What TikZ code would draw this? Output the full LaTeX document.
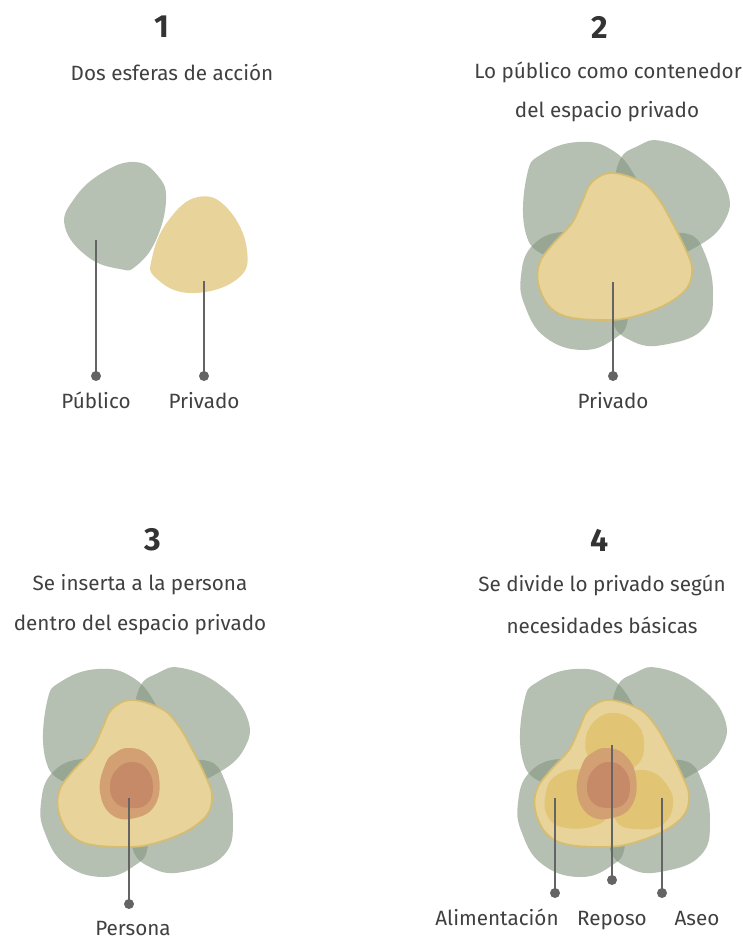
\documentclass[tikz,border=0pt]{standalone}
\usepackage{fontspec}
\setmainfont{Fira Sans}
\begin{document}
\begin{tikzpicture}[x=0.75pt,y=-0.75pt]
\definecolor{greenS}{RGB}{182,192,179}
\definecolor{greenL}{RGB}{133,150,128}
\definecolor{yelA}{RGB}{232,212,154}
\definecolor{yelStroke}{RGB}{214,189,112}
\definecolor{yelB}{RGB}{225,196,116}
\definecolor{oraA}{RGB}{211,160,115}
\definecolor{oraB}{RGB}{199,138,104}
\definecolor{txt}{RGB}{64,64,64}
\definecolor{numc}{RGB}{51,51,51}
\definecolor{stemc}{RGB}{100,100,100}
\tikzset{
  lobe/.style={fill=greenL, fill opacity=0.6},
  privbig/.style={fill=yelA, draw=yelStroke, line width=1.3},
  need/.style={fill=yelB},
  persout/.style={fill=oraA},
  persin/.style={fill=oraB},
  stem/.style={draw=stemc, line width=1.6},
  dot/.style={circle, fill=stemc, inner sep=0pt, minimum size=7.5},
  lbl/.style={text=txt, font=\fontsize{15.5pt}{18pt}\selectfont, inner sep=0pt},
  tag/.style={lbl, anchor=base},
  num/.style={text=numc, font=\fontsize{24pt}{28pt}\selectfont\bfseries, inner sep=0pt},
}
\newcommand\mylobes{%
  \path[lobe] plot[smooth cycle, tension=0.75] coordinates {(527,175) (542,154) (578,142) (612,150) (636,178) (648,214) (632,248) (588,262) (546,256) (525,230)};
  \path[lobe] plot[smooth cycle, tension=0.75] coordinates {(619,162) (638,146) (662,141) (700,158) (727,190) (724,222) (696,247) (660,258) (630,240) (616,200)};
  \path[lobe] plot[smooth cycle, tension=0.75] coordinates {(532,246) (562,232) (596,240) (624,272) (628,318) (614,339) (582,350) (545,337) (525,306) (521,276)};
  \path[lobe] plot[smooth cycle, tension=0.75] coordinates {(612,318) (624,272) (658,241) (688,234) (705,254) (713,294) (704,328) (668,344) (634,342)};
  \path[privbig] plot[smooth cycle, tension=0.6] coordinates {(592,182) (612,173) (642,182) (658,198) (672,222) (685,248) (692,268) (687,288) (665,305) (632,317) (605,320) (568,317) (548,305) (538,282) (540,262) (552,245) (572,223) (582,202)};
}
\useasboundingbox (0,0) rectangle (743,940);
\fill[white] (0,0) rectangle (743,940);

% ---------- Panel 1 ----------
\node[num] (n1) at (162,27) {1};
\node[lbl] (t1) at (172,72) {Dos esferas de acción};
\path[fill=greenS] plot[smooth cycle, tension=0.75] coordinates {(135,162) (158,176) (166,200) (156,240) (136,266) (120,269) (88,257) (65,227) (74,199) (102,173)};
\path[fill=yelA] plot[smooth cycle, tension=0.75] coordinates {(198,197) (228,209) (247,250) (236,280) (190,293) (156,278) (152,258) (168,221)};
\coordinate (s1a) at (96,240);
\coordinate (s1b) at (204,281);
\node[dot] (d1a) at (96,376) {};
\node[dot] (d1b) at (204,376) {};
\draw[stem] (s1a) -- (d1a.center);
\draw[stem] (s1b) -- (d1b.center);
\node[tag] (l1a) at (96,408) {Público};
\node[tag] (l1b) at (204,408) {Privado};

% ---------- Panel 2 ----------
\node[num] (n2) at (600,27) {2};
\node[lbl] (t2a) at (608,72) {Lo público como contenedor};
\node[lbl] (t2b) at (607,112) {del espacio privado};
\mylobes
\coordinate (s2) at (613,282);
\node[dot] (d2) at (613,376) {};
\draw[stem] (s2) -- (d2.center);
\node[tag] (l2) at (613,408) {Privado};

% ---------- Panel 3 ----------
\node[num] (n3) at (153,540) {3};
\node[lbl] (t3a) at (140,585) {Se inserta a la persona};
\node[lbl] (t3b) at (140,625) {dentro del espacio privado};
\begin{scope}[shift={(-480,527)}]
\mylobes
\path[persout] plot[smooth cycle, tension=0.75] coordinates {(610,221) (628,228) (639,250) (635,278) (615,291) (592,288) (580,265) (585,238) (595,226)};
\path[persin] plot[smooth cycle, tension=0.75] coordinates {(612,235) (627,242) (633,260) (627,277) (610,281) (595,275) (590,258) (597,242)};
\end{scope}
\coordinate (s3) at (129,798);
\node[dot] (d3) at (129,904) {};
\draw[stem] (s3) -- (d3.center);
\node[tag] (l3) at (133,935) {Persona};

% ---------- Panel 4 ----------
\node[num] (n4) at (600,540) {4};
\node[lbl] (t4a) at (602,585) {Se divide lo privado según};
\node[lbl] (t4b) at (602,625) {necesidades básicas};
\begin{scope}[shift={(-3,527)}]
\mylobes
\path[need] plot[smooth cycle, tension=0.75] coordinates {(600,192) (618,186) (638,195) (647,215) (640,238) (615,245) (593,232) (589,210)};
\path[need] plot[smooth cycle, tension=0.75] coordinates {(560,248) (585,243) (604,258) (610,285) (600,298) (570,301) (551,290) (549,265)};
\path[need] plot[smooth cycle, tension=0.75] coordinates {(630,248) (652,244) (670,258) (676,278) (665,298) (640,302) (620,295) (615,270)};
\path[persout] plot[smooth cycle, tension=0.75] coordinates {(610,221) (628,228) (639,250) (635,278) (615,291) (592,288) (580,265) (585,238) (595,226)};
\path[persin] plot[smooth cycle, tension=0.75] coordinates {(612,235) (627,242) (633,260) (627,277) (610,281) (595,275) (590,258) (597,242)};
\end{scope}
\coordinate (s4a) at (555,798);
\coordinate (s4b) at (612,745);
\coordinate (s4c) at (662,798);
\node[dot] (d4a) at (555,893) {};
\node[dot] (d4b) at (612,880) {};
\node[dot] (d4c) at (662,893) {};
\draw[stem] (s4a) -- (d4a.center);
\draw[stem] (s4b) -- (d4b.center);
\draw[stem] (s4c) -- (d4c.center);
\node[tag] (l4a) at (497,925) {Alimentación};
\node[tag] (l4b) at (612,925) {Reposo};
\node[tag] (l4c) at (697,925) {Aseo};
\end{tikzpicture}
\end{document}
